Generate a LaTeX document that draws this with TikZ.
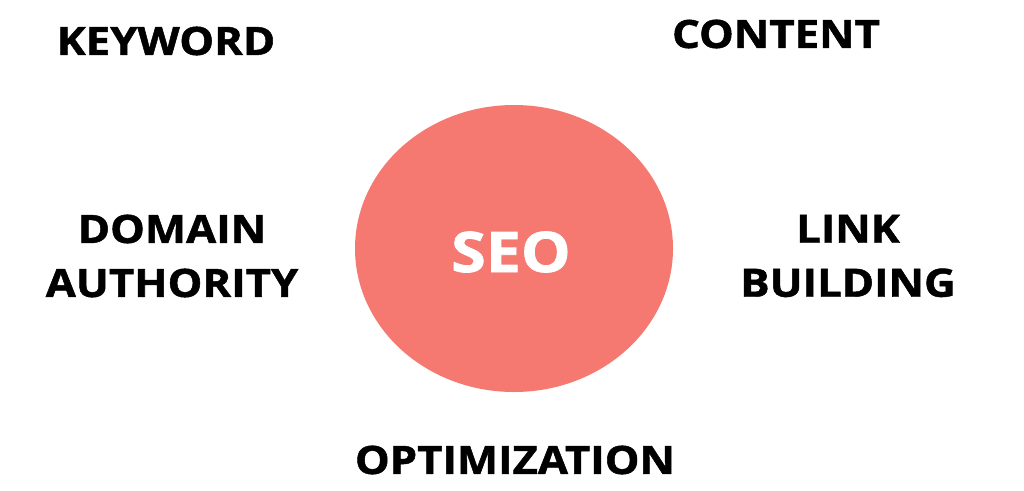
\documentclass[tikz,border=0pt]{standalone}
\usepackage{fontspec}
\setmainfont{Open Sans}[BoldFeatures={FakeBold=1.2}]
\usepackage{xcolor}
\definecolor{colorSeo}{RGB}{245,121,112}
\usetikzlibrary{positioning, shapes.geometric}

\begin{document}
\begin{tikzpicture}[x=1pt, y=1pt, every node/.style={inner sep=0pt, align=center},
  topic/.style={font=\fontsize{39}{54}\selectfont\bfseries, text=black, xscale=1.12}]
\useasboundingbox[fill=white] (0,0) rectangle (1024,-490);
\node[ellipse, fill=colorSeo, minimum width=318, minimum height=287] (seo) at (514,-248.5) {};
\node[font=\fontsize{56}{60}\selectfont\bfseries, text=white, xscale=1.12] (seoText) at (511,-252) {SEO};
\node[topic] (keyword) at (166,-41) {KEYWORD};
\node[topic] (content) at (776,-34) {CONTENT};
\node[topic] (domain) at (172,-256) {DOMAIN\\AUTHORITY};
\node[topic] (link) at (848,-256) {LINK\\BUILDING};
\node[topic] (optim) at (515,-460) {OPTIMIZATION};
\end{tikzpicture}
\end{document}
